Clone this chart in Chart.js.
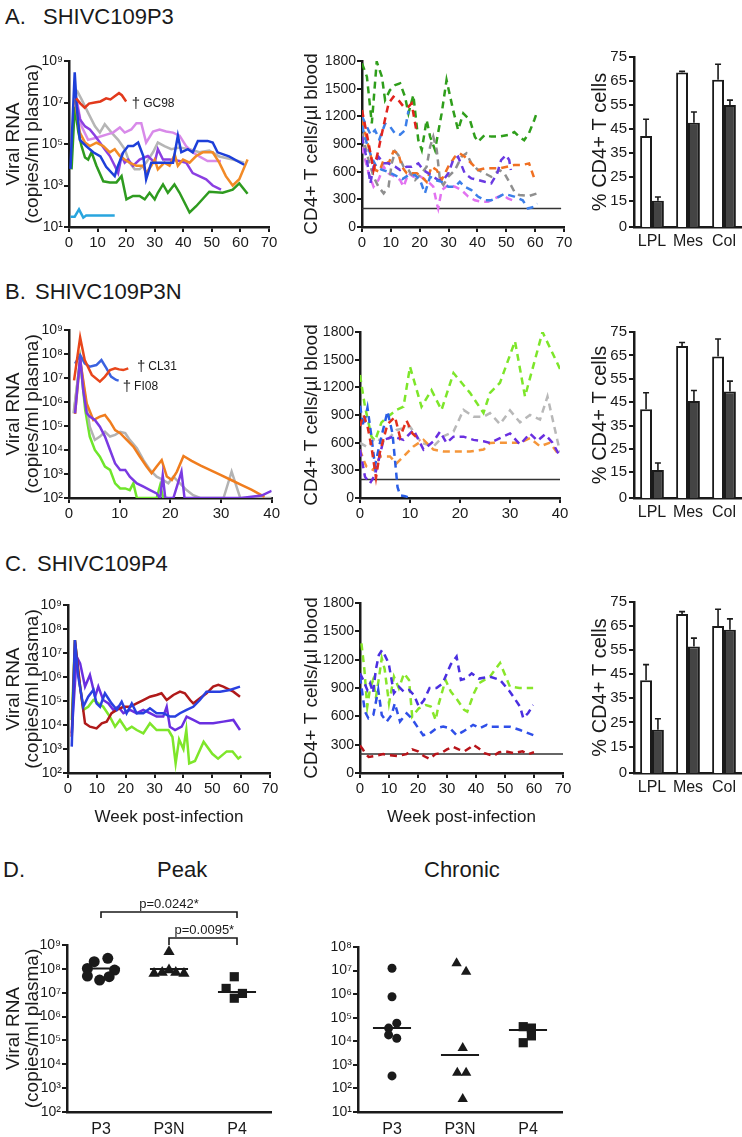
<!DOCTYPE html>
<html>
<head>
<meta charset="utf-8">
<script src="https://cdn.jsdelivr.net/npm/chart.js@4.4.0/dist/chart.umd.min.js"></script>
<style>
  body { margin: 0; background: #fff; width: 742px; height: 1137px; position: relative; overflow: hidden;
         font-family: "Liberation Sans", Arial, sans-serif; color: #1a1a1a; }
  canvas { position: absolute; }
  .hd { position: absolute; font-size: 22px; line-height: 1; white-space: pre; }
</style>
</head>
<body>
<div class="hd" style="left:5px;top:6px">A.</div>
<div class="hd" style="left:43px;top:6px">SHIVC109P3</div>
<div class="hd" style="left:5px;top:281px">B.</div>
<div class="hd" style="left:35px;top:281px">SHIVC109P3N</div>
<div class="hd" style="left:5px;top:553px">C.</div>
<div class="hd" style="left:37px;top:553px">SHIVC109P4</div>
<div class="hd" style="left:3px;top:859px">D.</div>
<div class="hd" style="left:157px;top:859px">Peak</div>
<div class="hd" style="left:424px;top:859px">Chronic</div>

<script>
// ---- A. SHIVC109P3 : viral RNA (log10 copies/ml) by week ----
const rnaA_red_wk = [2.5, 4, 5.5, 7, 9, 11, 13, 14.5, 16, 17.5, 18.5, 20];
const rnaA_red = [7.2, 6.95, 6.75, 6.95, 7.0, 7.05, 7.2, 7.15, 7.3, 7.45, 7.35, 7.05];
const rnaA_cyan_wk = [0.5, 2, 3.5, 5, 6, 16];
const rnaA_cyan = [1.5, 1.5, 1.85, 1.45, 1.55, 1.55];
const rnaA_blue_wk = [0.5, 2, 2.7, 3.8, 6, 8.5, 11, 13, 16, 17, 19, 20.7, 22.5, 24.2, 26, 27, 28.8, 30.5, 34, 36.4, 38.1, 39.3, 41.6, 43.3, 45.1, 48.5, 50.3, 52, 56, 61.3];
const rnaA_blue = [3.8, 8.45, 6.8, 5.2, 4.9, 4.6, 4.4, 3.9, 3.45, 3.9, 4.6, 4.9, 4.9, 5.07, 4.42, 3.3, 4.1, 4.1, 4.1, 4.1, 5.4, 4.6, 4.75, 4.6, 5.15, 5.15, 5.07, 4.6, 4.4, 4.0];
const rnaA_green_wk = [0.9, 2, 3.3, 4.4, 5.6, 6.7, 7.9, 9.6, 12, 14.3, 16.6, 18.4, 20.1, 22.4, 24.7, 26.5, 28.2, 30, 31.1, 32.9, 34.6, 36.9, 38.7, 42.2, 44.5, 49.1, 53.8, 57.3, 59.6, 62.5];
const rnaA_green = [3.78, 6.8, 5.55, 4.9, 4.35, 4.25, 4.6, 3.95, 3.2, 3.15, 3.15, 3.45, 2.33, 2.5, 2.5, 2.33, 2.65, 2.33, 2.65, 3.05, 2.65, 3.05, 2.65, 1.7, 2.0, 2.7, 2.65, 2.8, 3.1, 2.6];
const rnaA_gray_wk = [2.7, 4.4, 6.7, 9.1, 10.8, 12.5, 14.9, 17.2, 19.5, 21.2, 23, 24.7, 27, 29.4, 31.1, 33.4, 35.8, 38.7, 42.2, 45.6, 49.1, 52.6, 57.3, 61.3];
const rnaA_gray = [7.6, 7.15, 6.5, 5.85, 5.55, 5.95, 5.55, 5.2, 4.75, 4.1, 3.78, 3.78, 4.1, 4.6, 5.07, 4.9, 4.75, 4.83, 4.75, 4.6, 4.68, 4.4, 4.25, 4.1];
const rnaA_pink_wk = [2.7, 4.4, 6.7, 9.6, 13.1, 15.4, 17.8, 19.5, 21.8, 23.6, 25.3, 27, 29.4, 31.7, 34, 36.4, 38.7, 41, 43.3, 45.6, 48.5, 50.8, 53.2];
const rnaA_pink = [7.15, 5.85, 5.2, 5.3, 5.45, 5.55, 5.8, 5.55, 5.7, 6.0, 6.0, 5.07, 5.6, 5.7, 5.6, 5.55, 5.4, 4.9, 4.6, 4.4, 4.18, 4.18, 4.18];
const rnaA_purple_wk = [2, 3.8, 5.6, 7.3, 9.1, 10.8, 12.5, 14.3, 16, 17.2, 18.4, 19.5, 20.7, 22.4, 24.7, 27.6, 30, 31.1, 32.9, 35.2, 38.7, 41, 43.3, 45.6, 48, 50.3, 53.2];
const rnaA_purple = [7.45, 6.2, 5.85, 5.7, 5.4, 5.07, 4.75, 4.42, 3.95, 3.6, 4.42, 4.1, 4.25, 3.95, 4.25, 4.42, 4.1, 4.75, 4.25, 4.25, 4.18, 4.1, 3.6, 3.45, 3.3, 3.0, 2.8];
const rnaA_orange_wk = [2, 3.8, 5.6, 7.3, 9.6, 12, 14.3, 16, 17.8, 19.5, 21.2, 23.6, 25.9, 27, 28.8, 30, 31.1, 33.4, 35.2, 37, 38.1, 39.9, 42.2, 44.5, 46.8, 50.3, 52.6, 54.9, 57.3, 59.6, 62.5];
const rnaA_orange = [7.15, 5.55, 5.07, 4.9, 5.07, 4.9, 4.6, 4.75, 4.42, 4.25, 4.1, 3.95, 3.95, 3.6, 3.95, 4.25, 3.78, 4.1, 3.95, 4.5, 3.95, 4.25, 4.1, 4.42, 4.6, 4.6, 4.1, 3.45, 3.0, 3.3, 4.25];

// ---- A. CD4+ T cells/ul by week ----
const cd4A_green_wk = [0, 1.7, 3.4, 5.1, 6.9, 8, 9.7, 11.5, 13.2, 14.9, 16.1, 17.8, 19.5, 20.7, 22.4, 23.6, 25.3, 27.6, 29.3, 31.6, 33.3, 35.1, 37.4, 39.1, 40.2, 42.5, 44.8, 47.6, 51, 52.8, 54.5, 56.2, 57.9, 59.7, 60.7];
const cd4A_green = [1775, 1630, 1124, 1793, 1630, 1377, 1485, 1540, 1558, 1413, 1232, 1431, 943, 835, 1160, 980, 835, 1232, 1594, 1265, 1052, 1232, 1160, 980, 925, 997, 980, 980, 1000, 1030, 980, 940, 1020, 1160, 1250];
const cd4A_red_wk = [0, 2.3, 4, 5.7, 6.9, 9.2, 10.9, 12.6, 14.4, 16.1, 17.2, 19];
const cd4A_red = [1268, 907, 618, 835, 1015, 1340, 1413, 1377, 1305, 1305, 1340, 1015];
const cd4A_ltblue_wk = [0, 1.5, 3, 4.5, 6, 8, 9.7, 11.5, 13.2, 14.9, 16.1];
const cd4A_ltblue = [1200, 1100, 1000, 1050, 950, 1120, 1090, 1010, 1000, 1050, 1260];
const cd4A_blue_wk = [0, 1.7, 3.4, 5.1, 7, 9, 11.5, 14, 16, 18.4, 20.1, 21.8, 23.6, 25.3, 27.6, 29.9, 32.2, 33.9, 35.6, 37.9, 40.2, 42.5, 44.8, 47.6, 49.3, 52.8, 55.7, 57.5, 59.7, 60.7];
const cd4A_blue = [1100, 900, 750, 650, 620, 600, 560, 520, 560, 563, 510, 365, 545, 510, 490, 437, 437, 490, 437, 400, 330, 290, 290, 329, 360, 330, 290, 200, 220, 255];
const cd4A_gray_wk = [0, 2.3, 4, 5.7, 7.5, 9.2, 10.3, 11.5, 12.6, 14.4, 16.1, 18.4, 20.7, 22.4, 23.6, 24.7, 25.9, 27, 28.2, 29.9, 32.2, 34.5, 36.2, 37.9, 40.2, 42.5, 44.8, 47.6, 49.3, 51, 52.8, 54.5, 57.9, 60.7];
const cd4A_gray = [1015, 726, 545, 437, 365, 437, 690, 820, 780, 654, 618, 510, 582, 654, 870, 980, 835, 510, 455, 545, 618, 762, 798, 690, 618, 582, 545, 618, 585, 490, 383, 347, 336, 365];
const cd4A_orange_wk = [0, 1.7, 3.4, 4.6, 6, 7.5, 9.2, 10.9, 12.6, 13.8, 15.5, 17.2, 19, 20.7, 22.4, 24.1, 25.9, 27.6, 29.9, 32.2, 33.9, 35.6, 37.9, 40.2, 42.5, 44.8, 47.6, 52.8, 55.5, 57.9, 59.7];
const cd4A_orange = [1160, 943, 726, 618, 600, 726, 690, 820, 800, 654, 582, 582, 582, 545, 490, 654, 618, 510, 654, 762, 798, 762, 690, 618, 636, 636, 636, 672, 672, 690, 527];
const cd4A_purple_wk = [0, 1.7, 2.9, 4, 5.7, 7.5, 9.2, 11.5, 13.2, 15.5, 17.2, 19.5, 21.2, 23, 24.7, 26.4, 28.2, 29.9, 31.6, 33.3, 35.6, 37.9, 40.2, 42.5, 44.8, 46.9, 48.2, 49.9, 51, 51.6];
const cd4A_purple = [980, 726, 473, 654, 762, 690, 690, 654, 618, 654, 654, 690, 618, 582, 545, 510, 510, 582, 726, 762, 582, 527, 510, 490, 473, 585, 726, 780, 726, 618];
const cd4A_pink_wk = [0, 2.3, 4, 5.7, 7.5, 9.2, 11.5, 13.2, 14.4, 16.1, 17.8, 19.5, 21.2, 23, 24.7, 25.9, 26.4, 27.6, 29.9, 32.2, 34.5, 36.8, 39.1, 41.4, 43.7, 46.4, 48.7, 50.5, 52.2];
const cd4A_pink = [870, 582, 437, 510, 654, 582, 545, 510, 437, 582, 545, 563, 527, 490, 437, 257, 200, 400, 455, 437, 400, 330, 290, 275, 275, 315, 350, 310, 290];

// ---- B. SHIVC109P3N ----
const rnaB_red_wk = [1, 2.2, 3.1, 4.5, 6.1, 7.1, 8.1, 9.1, 9.9, 10.7, 11.7];
const rnaB_red = [6.9, 8.69, 7.75, 7.13, 6.85, 7.06, 7.33, 7.4, 7.36, 7.33, 7.4];
const rnaB_blue_wk = [1.2, 2.2, 3.1, 4.1, 5.4, 6.4, 7.4, 8.3, 9.3, 9.8];
const rnaB_blue = [7.6, 7.96, 7.61, 7.47, 7.54, 7.75, 7.4, 7.06, 6.92, 6.89];
const rnaB_gray_wk = [0.9, 2.2, 3.2, 4.1, 5.1, 6.1, 7.1, 8.1, 9.1, 10.1, 11.1, 12, 13.4, 14.7, 16, 17.3, 18.6, 19.6, 20.6, 21.9, 23.2, 24.5, 25.9, 30.5, 32.1, 33.8, 40];
const rnaB_gray = [5.53, 7.75, 6.2, 4.97, 4.42, 4.56, 4.76, 4.56, 4.63, 4.76, 4.7, 4.42, 4.07, 3.58, 3.17, 2.89, 2.75, 2.61, 2.89, 2.61, 2.33, 2.12, 2.0, 2.0, 3.1, 2.0, 2.0];
const rnaB_orange_wk = [1.2, 2.2, 3.5, 4.8, 6.1, 7.1, 8.1, 9.1, 10.1, 11.4, 12.7, 14, 15.3, 16.3, 17.3, 18.3, 19.3, 20.3, 21.3, 22.6, 24.2, 26, 28, 30, 32, 34, 36, 38.6];
const rnaB_orange = [5.5, 7.75, 5.94, 5.25, 5.39, 5.46, 5.18, 4.83, 4.7, 4.42, 4.14, 3.72, 3.31, 3.03, 3.31, 3.58, 2.9, 2.75, 3.1, 3.75, 3.55, 3.35, 3.15, 2.95, 2.75, 2.55, 2.35, 2.05];
const rnaB_green_wk = [1, 2.2, 3.2, 4.1, 5.1, 6.1, 7.1, 8.1, 9.1, 10.1, 11.1, 12, 12.7, 13.4, 17.3, 18, 18.6, 19.5];
const rnaB_green = [5.6, 7.75, 5.67, 4.56, 4.0, 3.72, 3.31, 3.17, 2.61, 2.4, 2.4, 2.33, 2.61, 2.0, 2.0, 2.54, 2.0, 2.0];
const rnaB_purple_wk = [1.2, 2.2, 2.8, 3.5, 4.1, 5.1, 6.1, 7.1, 8.1, 9.1, 10.1, 11.1, 12, 13.4, 14.7, 16, 17.3, 18, 18.5, 19, 20.6, 22.2, 22.8, 24, 30, 34, 38, 40];
const rnaB_purple = [5.53, 7.89, 6.5, 5.53, 5.39, 5.25, 4.97, 4.56, 4.0, 3.44, 3.17, 3.17, 2.89, 2.61, 2.47, 2.33, 2.19, 2.0, 2.95, 2.0, 2.0, 3.1, 2.0, 2.0, 2.0, 2.0, 2.1, 2.3];

const cd4B_green_wk = [0, 1, 2.3, 3, 4.3, 5.6, 7.3, 8.7, 10, 12.3, 14.3, 16.3, 18.7, 22, 24.7, 26, 28, 31, 33, 35, 36.5, 40];
const cd4B_green = [1334, 990, 665, 620, 820, 882, 955, 990, 1424, 990, 1170, 955, 1355, 1140, 922, 1140, 1250, 1700, 1100, 1500, 1800, 1400];
const cd4B_gray_wk = [0, 1.5, 3, 5, 7.3, 10, 12.3, 14.7, 16.7, 18.7, 20.7, 22.7, 24.7, 26, 28, 30, 32, 34, 36, 37.5, 40];
const cd4B_gray = [597, 550, 650, 600, 738, 773, 597, 560, 670, 720, 955, 882, 882, 920, 800, 950, 820, 900, 850, 1100, 500];
const cd4B_orange_wk = [0, 0.7, 1.3, 2.7, 4, 6, 7.3, 8.7, 10.7, 12.7, 14.7, 16.7, 19.3, 22, 24.7, 26, 29, 32, 34, 36, 38, 40];
const cd4B_orange = [525, 415, 340, 303, 450, 450, 375, 450, 560, 630, 525, 505, 505, 505, 525, 597, 600, 600, 650, 560, 600, 450];
const cd4B_purple_wk = [0, 1, 2, 3, 4.7, 6.7, 8.7, 10.7, 12.7, 14.7, 16, 17.3, 18.7, 20.7, 22.7, 24.7, 26, 28, 30, 32, 34, 35.5, 37, 38.5, 40];
const cd4B_purple = [525, 230, 160, 250, 630, 665, 630, 738, 525, 615, 720, 597, 665, 665, 630, 615, 597, 650, 700, 580, 700, 620, 690, 600, 450];
const cd4B_red_wk = [0, 0.7, 1.5, 2.3, 3.2, 4, 5.5, 7, 8, 9.3, 10.5, 12];
const cd4B_red = [780, 900, 780, 550, 220, 500, 800, 880, 660, 840, 700, 620];
const cd4B_blue_wk = [0, 0.7, 1.5, 2.2, 3, 4, 5.5, 6.5, 7.5, 8, 9, 10];
const cd4B_blue = [1000, 780, 980, 700, 350, 600, 940, 700, 120, 30, 20, 0];

// ---- C. SHIVC109P4 ----
const rnaC_red_wk = [1.3, 2.4, 4.2, 5.9, 7.6, 9.9, 11.7, 13.4, 15.1, 16.9, 19.2, 21.5, 23.8, 26.1, 28.4, 30.7, 32.4, 34.2, 36.5, 38.8, 40.5, 42.3, 43.4, 45.7, 48, 50.3, 52.1, 53.8, 57.3, 59.6];
const rnaC_red = [3.51, 7.54, 5.6, 4.07, 3.93, 3.86, 4.07, 4.14, 4.49, 4.63, 4.76, 4.76, 4.9, 5.04, 5.18, 5.25, 5.32, 5.04, 5.25, 5.39, 5.32, 5.04, 4.9, 5.11, 5.32, 5.6, 5.67, 5.6, 5.39, 5.18];
const rnaC_green_wk = [1.3, 2.4, 3.6, 5.3, 7, 8.8, 10.5, 12.2, 14.5, 16.3, 18, 20.3, 22.1, 23.8, 26.1, 28.4, 30.7, 33, 34.8, 36.2, 37.3, 38.5, 40, 41, 42, 44, 47, 50, 52, 55, 57, 59, 60];
const rnaC_green = [4.21, 7.54, 6.15, 4.63, 4.76, 5.04, 4.9, 4.76, 4.35, 3.93, 4.21, 3.79, 3.93, 3.79, 3.65, 4.07, 3.79, 3.79, 3.79, 3.5, 2.4, 3.4, 3.0, 3.8, 2.4, 2.5, 3.3, 2.8, 2.6, 2.9, 2.9, 2.6, 2.7];
const rnaC_blue_wk = [1.3, 2.4, 3.6, 5.3, 7, 8.8, 9.9, 11.1, 12.8, 15.1, 16.9, 18.6, 20.3, 22.1, 23.8, 26.1, 28.4, 30.7, 33, 35.3, 37.1, 38.8, 41.1, 43.4, 45.7, 48, 50.3, 52.7, 56.1, 59.6];
const rnaC_blue = [3.1, 7.54, 6.0, 4.76, 5.18, 5.46, 4.9, 4.76, 5.32, 4.9, 4.63, 4.97, 4.49, 4.9, 4.49, 4.49, 4.7, 4.49, 4.49, 4.35, 4.35, 4.49, 4.63, 4.76, 5.04, 5.39, 5.39, 5.39, 5.46, 5.6];
const rnaC_purple_wk = [1.3, 3, 4.2, 5.9, 7.6, 9.4, 10.5, 12.2, 14, 15.7, 17.4, 19.2, 21.5, 23.8, 26.1, 28.4, 30.7, 33, 34.2, 35.3, 37.1, 39.4, 41.1, 43.4, 45.7, 50.3, 53.8, 57.3, 59.6];
const rnaC_purple = [3.65, 6.85, 6.57, 5.6, 6.08, 5.18, 5.6, 5.04, 4.9, 4.63, 4.76, 4.49, 4.63, 4.49, 4.63, 4.49, 4.35, 4.35, 4.76, 3.93, 3.79, 3.93, 4.35, 4.21, 4.07, 4.07, 4.14, 4.21, 3.79];

const cd4C_green_wk = [0.5, 1.5, 2.5, 3.5, 4.5, 5.5, 6.5, 7.5, 8.5, 10, 11.7, 13.4, 15.2, 16.9, 18, 20.3, 22.7, 24.4, 26.1, 27.2, 29.5, 31.3, 33.6, 35.9, 37, 39.3, 41, 44.8, 48.3, 51.7, 55, 59.7];
const cd4C_green = [1373, 1100, 703, 900, 985, 800, 1000, 1215, 1100, 738, 1020, 897, 1055, 985, 597, 685, 720, 703, 560, 738, 985, 862, 773, 668, 650, 844, 950, 1020, 1165, 914, 900, 900];
const cd4C_violet_wk = [0, 1.1, 2.5, 3.5, 4.5, 5.5, 6.5, 7.6, 8.5, 9.9, 11.7, 13.4, 15.1, 16.9, 18.6, 20.3, 22.1, 24, 26.4, 28.5, 31.3, 33.3, 34.8, 36.5, 38.5, 41, 44.8, 48.3, 51.7, 55.2, 56.3, 58, 59.7];
const cd4C_violet = [1055, 985, 880, 950, 850, 1100, 1250, 1300, 1250, 1160, 844, 914, 862, 879, 826, 703, 773, 900, 900, 950, 1150, 1232, 985, 1000, 1055, 1000, 1020, 985, 861, 702, 580, 635, 720];
const cd4C_blue_wk = [0, 1.7, 2.9, 4.6, 6.3, 7.5, 9.2, 10.9, 12, 13.8, 16.1, 17.8, 20.1, 21.8, 24.1, 26.4, 28.7, 31, 33.3, 35.6, 39, 41.4, 43.7, 44.8, 51.7, 55.2, 59.8];
const cd4C_blue = [1020, 650, 580, 615, 879, 615, 545, 615, 738, 545, 632, 580, 475, 400, 420, 475, 492, 475, 400, 440, 510, 475, 510, 490, 490, 455, 400];
const cd4C_red_wk = [0, 1, 2, 3, 5, 8, 10, 13, 16, 18, 20, 22, 24, 26, 28, 30, 32, 34, 36, 38, 39, 41, 43, 46, 48, 50, 53, 56, 58, 60];
const cd4C_red = [290, 250, 200, 170, 180, 200, 190, 180, 200, 250, 230, 180, 150, 200, 210, 250, 280, 250, 230, 270, 300, 260, 210, 180, 220, 230, 210, 230, 200, 220];

const cd4Threshold = 200;

// ---- % CD4+ T cells in tissues (white = uninfected, dark = infected) ----
const tissues = ['LPL', 'Mes', 'Col'];
const pctTicks = [15, 25, 35, 45, 55, 65, 75];
const pctA_ctrl = [42, 68.5, 65.5], pctA_ctrlSem = [7, 0.5, 6.5];
const pctA_inf = [15, 47.5, 55], pctA_infSem = [1.5, 4.5, 2];
const pctB_ctrl = [42, 69, 64.5], pctB_ctrlSem = [7, 1.5, 7.5];
const pctB_inf = [16, 45.5, 49.5], pctB_infSem = [3, 4.5, 4.5];
const pctC_ctrl = [42.5, 70, 65], pctC_ctrlSem = [6.5, 1, 7];
const pctC_inf = [22, 56.5, 63.5], pctC_infSem = [4.5, 3.5, 4.5];

// ---- D. peak / chronic viral load (log10 copies/ml) ----
const groups = ['P3', 'P3N', 'P4'];
const peakP3 = [8.30, 8.44, 8.02, 7.95, 7.70, 7.53, 7.67];
const peakP3_jit = [-0.1, 0.1, -0.2, 0.2, -0.2, -0.02, 0.12];
const peakP3N = [8.72, 7.81, 7.85, 7.95, 7.85, 7.81];
const peakP3N_jit = [0, -0.22, -0.1, 0, 0.1, 0.22];
const peakP4 = [7.67, 7.18, 6.97, 6.77];
const peakP4_jit = [-0.04, -0.16, 0.08, -0.04];
const peakMedians = [8.02, 7.99, 7.03];
const chronicP3 = [7.10, 5.89, 4.77, 4.56, 4.27, 4.13, 2.53];
const chronicP3_jit = [0, 0, 0.07, -0.05, -0.05, 0.07, 0];
const chronicP3N = [7.31, 6.95, 3.71, 2.67, 2.67, 1.55];
const chronicP3N_jit = [-0.05, 0.09, 0.04, -0.04, 0.09, 0.04];
const chronicP4 = [4.62, 4.56, 4.23, 3.94];
const chronicP4_jit = [-0.07, 0.05, 0.05, -0.07];
const chronicMedians = [4.56, 3.42, 4.48];

// ---------------------------------------------------------------
const INK = '#1a1a1a';
const FONT = '"Liberation Sans", Arial, sans-serif';
Chart.defaults.font.family = FONT;
Chart.defaults.color = INK;
Chart.defaults.animation = false;
Chart.defaults.events = [];
Chart.defaults.plugins.legend.display = false;
Chart.defaults.plugins.tooltip.enabled = false;

const SUP = ['⁰', '¹', '²', '³', '⁴', '⁵', '⁶', '⁷', '⁸', '⁹'];
const pow10 = v => '10' + SUP[v];
const range = (a, b) => { const r = []; for (let i = a; i <= b; i++) r.push(i); return r; };

function place(left, top, w, h) {
  const c = document.createElement('canvas');
  c.width = w; c.height = h;
  c.style.left = left + 'px'; c.style.top = top + 'px';
  c.style.width = w + 'px'; c.style.height = h + 'px';
  document.body.appendChild(c);
  return c;
}

function line(wk, val, color, dashed, width) {
  return {
    data: wk.map((x, i) => ({ x, y: val[i] })),
    borderColor: color, borderWidth: width || 2.5,
    borderDash: dashed ? [7, 5] : [],
    pointRadius: 0, tension: 0, fill: false
  };
}

const gridOn = { drawOnChartArea: false, drawTicks: true, tickLength: 5, color: INK, lineWidth: 2 };
const gridOff = { drawOnChartArea: false, drawTicks: false };
const border = { color: INK, width: 2.5 };

// dagger notes for animals that died
function notes(list) {
  return {
    id: 'notes',
    afterDatasetsDraw(chart) {
      const ctx = chart.ctx, xs = chart.scales.x, ys = chart.scales.y;
      ctx.save();
      ctx.fillStyle = INK; ctx.textBaseline = 'middle';
      list.forEach(n => {
        const px = xs.getPixelForValue(n.x), py = ys.getPixelForValue(n.y);
        ctx.font = '15px ' + FONT;
        ctx.fillText('†', px, py);
        const w = ctx.measureText('†').width;
        ctx.font = '12px ' + FONT;
        ctx.fillText(n.text, px + w + 3, py);
      });
      ctx.restore();
    }
  };
}

function timeChart(box, p) {
  const cv = place(box[0], box[1], box[2], box[3]);
  return new Chart(cv, {
    type: 'line',
    data: { datasets: p.sets },
    options: {
      responsive: false,
      layout: { padding: { top: p.pt, right: p.pr, left: 0, bottom: 0 } },
      scales: {
        x: {
          type: 'linear', min: 0, max: p.xmax,
          afterBuildTicks: s => { s.ticks = p.xticks.map(v => ({ value: v })); },
          ticks: { font: { size: 15 }, padding: 2, maxRotation: 0, autoSkip: false },
          grid: gridOn, border,
          title: p.xtitle
            ? { display: true, text: p.xtitle, font: { size: 17 }, padding: { top: 0, bottom: 12 } }
            : { display: false },
          afterFit: s => { s.height = p.xh; }
        },
        y: {
          type: 'linear', min: p.ymin, max: p.ymax,
          afterBuildTicks: s => { s.ticks = p.yticks.map(v => ({ value: v })); },
          ticks: { font: { size: p.yfs || 14 }, padding: 1, callback: p.ylab, autoSkip: false },
          grid: gridOn, border,
          title: { display: true, text: p.ytitle, font: { size: p.ytfs || 19, lineHeight: p.ytlh || 1.0 },
                   padding: { top: p.ytp, bottom: 0 } },
          afterFit: s => { s.width = p.yw; }
        }
      }
    },
    plugins: p.notes ? [notes(p.notes)] : []
  });
}

const errorBars = {
  id: 'errorBars',
  afterDatasetsDraw(chart) {
    const ctx = chart.ctx, ys = chart.scales.y;
    ctx.save();
    ctx.strokeStyle = INK; ctx.lineWidth = 1.6;
    chart.data.datasets.forEach((ds, di) => {
      chart.getDatasetMeta(di).data.forEach((bar, i) => {
        const top = ys.getPixelForValue(ds.data[i] + ds.sem[i]);
        ctx.beginPath();
        ctx.moveTo(bar.x, bar.y); ctx.lineTo(bar.x, top);
        ctx.moveTo(bar.x - 3, top); ctx.lineTo(bar.x + 3, top);
        ctx.stroke();
      });
    });
    ctx.restore();
  }
};

function barChart(box, p) {
  const cv = place(box[0], box[1], box[2], box[3]);
  const base = 4; // compressed bottom segment, labelled 0
  return new Chart(cv, {
    type: 'bar',
    data: {
      labels: tissues,
      datasets: [
        { data: p.ctrl, sem: p.ctrlSem, backgroundColor: '#ffffff', borderColor: INK, borderWidth: 2, borderSkipped: 'bottom' },
        { data: p.inf, sem: p.infSem, backgroundColor: '#444444', borderColor: INK, borderWidth: 2, borderSkipped: 'bottom' }
      ]
    },
    options: {
      responsive: false,
      layout: { padding: { top: p.pt, right: 0, left: 0, bottom: 0 } },
      datasets: { bar: { categoryPercentage: 0.66, barPercentage: 1 } },
      scales: {
        x: {
          grid: gridOff, border,
          ticks: { font: { size: 16 }, padding: 5, maxRotation: 0, minRotation: 0, autoSkip: false },
          afterFit: s => { s.height = p.xh; }
        },
        y: {
          min: base, max: 75,
          afterBuildTicks: s => { s.ticks = [base].concat(pctTicks).map(v => ({ value: v })); },
          ticks: { font: { size: 15 }, padding: 2, autoSkip: false, callback: v => (v === base ? '0' : v) },
          grid: gridOn, border,
          title: { display: true, text: '% CD4+ T cells', font: { size: 20, lineHeight: 1.2 }, padding: { top: 3, bottom: 0 } },
          afterFit: s => { s.width = 49; }
        }
      }
    },
    plugins: [errorBars]
  });
}

function brackets(list) {
  return {
    id: 'brackets',
    afterDatasetsDraw(chart) {
      const ctx = chart.ctx, xs = chart.scales.x, top = chart.chartArea.top;
      ctx.save();
      ctx.strokeStyle = INK; ctx.fillStyle = INK; ctx.lineWidth = 1.6;
      ctx.font = '13px ' + FONT; ctx.textAlign = 'center'; ctx.textBaseline = 'alphabetic';
      list.forEach(b => {
        const x1 = xs.getPixelForValue(b.from), x2 = xs.getPixelForValue(b.to);
        const y = top - b.rise;
        ctx.beginPath();
        ctx.moveTo(x1, y + b.drop); ctx.lineTo(x1, y); ctx.lineTo(x2, y); ctx.lineTo(x2, y + b.drop);
        ctx.stroke();
        ctx.fillText(b.text, xs.getPixelForValue(b.labelAt), y - 4);
      });
      ctx.restore();
    }
  };
}

function dotChart(box, p) {
  const cv = place(box[0], box[1], box[2], box[3]);
  const shapes = ['circle', 'triangle', 'rect'];
  const sets = [];
  p.vals.forEach((vals, k) => {
    sets.push({
      data: vals.map((v, i) => ({ x: k + 1 + p.jit[k][i], y: v })),
      pointStyle: shapes[k], pointRadius: p.radii[k], pointBackgroundColor: INK,
      pointBorderColor: INK, pointBorderWidth: 0, showLine: false
    });
    sets.push({
      data: [{ x: k + 0.72, y: p.medians[k] }, { x: k + 1.28, y: p.medians[k] }],
      borderColor: INK, borderWidth: 2, pointRadius: 0, showLine: true
    });
  });
  return new Chart(cv, {
    type: 'scatter',
    data: { datasets: sets },
    options: {
      responsive: false,
      layout: { padding: { top: p.pt, right: p.pr, left: 0, bottom: 0 } },
      scales: {
        x: {
          type: 'linear', min: 0.5, max: 3.5,
          afterBuildTicks: s => { s.ticks = [1, 2, 3].map(v => ({ value: v })); },
          ticks: { font: { size: 16 }, padding: 8, callback: v => groups[v - 1] },
          grid: gridOff, border,
          afterFit: s => { s.height = p.xh; }
        },
        y: {
          type: 'linear', min: p.ymin, max: p.ymax,
          afterBuildTicks: s => { s.ticks = range(p.ymin, p.ymax).map(v => ({ value: v })); },
          ticks: { font: { size: 14 }, padding: 1, callback: v => pow10(v), autoSkip: false },
          grid: gridOn, border,
          title: p.ytitle
            ? { display: true, text: p.ytitle, font: { size: 19, lineHeight: 1.0 }, padding: { top: 4, bottom: 0 } }
            : { display: false },
          afterFit: s => { s.width = p.yw; }
        }
      }
    },
    plugins: p.brackets ? [brackets(p.brackets)] : []
  });
}

const rnaTitle = ['Viral RNA', '(copies/ml plasma)'];
const cd4Title = 'CD4+ T cells/µl blood';
const wk70 = [0, 10, 20, 30, 40, 50, 60, 70];
const wk40 = [0, 10, 20, 30, 40];

// ---- row A ----
timeChart([0, 45, 282, 215], {
  sets: [
    line(rnaA_red_wk, rnaA_red, '#e2391c'),
    line(rnaA_blue_wk, rnaA_blue, '#1d3fd9'),
    line(rnaA_orange_wk, rnaA_orange, '#f28a26'),
    line(rnaA_purple_wk, rnaA_purple, '#8b3fe2'),
    line(rnaA_pink_wk, rnaA_pink, '#d88ae9'),
    line(rnaA_gray_wk, rnaA_gray, '#b5b5b5'),
    line(rnaA_green_wk, rnaA_green, '#2e9b1f'),
    line(rnaA_cyan_wk, rnaA_cyan, '#29a5de')
  ],
  xmax: 70, xticks: wk70, ymin: 1, ymax: 9, yticks: [1, 3, 5, 7, 9], ylab: v => pow10(v),
  ytitle: rnaTitle, ytp: 4, yw: 69, pt: 16, pr: 13, xh: 33,
  notes: [{ x: 22, y: 6.93, text: 'GC98' }]
});
timeChart([290, 45, 285, 215], {
  sets: [
    line(cd4A_red_wk, cd4A_red, '#e2241e', true),
    line(cd4A_ltblue_wk, cd4A_ltblue, '#3c7fe9', true),
    line(cd4A_blue_wk, cd4A_blue, '#3c7fe9', true),
    line(cd4A_purple_wk, cd4A_purple, '#6a3ae2', true),
    line(cd4A_orange_wk, cd4A_orange, '#f07022', true),
    line(cd4A_gray_wk, cd4A_gray, '#8f8f8f', true),
    line(cd4A_pink_wk, cd4A_pink, '#e272f0', true),
    line(cd4A_green_wk, cd4A_green, '#2f9e1b', true),
    line([0, 69], [cd4Threshold, cd4Threshold], '#333', false, 1.5)
  ],
  xmax: 70, xticks: wk70, ymin: 0, ymax: 1800, yticks: [0, 300, 600, 900, 1200, 1500, 1800], yfs: 14,
  ylab: v => v, ytitle: cd4Title, ytfs: 19, ytlh: 1.2, ytp: 10, yw: 72, pt: 16, pr: 11, xh: 33
});
barChart([585, 45, 157, 215], { ctrl: pctA_ctrl, ctrlSem: pctA_ctrlSem, inf: pctA_inf, infSem: pctA_infSem, pt: 12, xh: 33 });

// ---- row B ----
timeChart([0, 315, 282, 215], {
  sets: [
    line(rnaB_red_wk, rnaB_red, '#e8461b'),
    line(rnaB_blue_wk, rnaB_blue, '#3a62e0'),
    line(rnaB_purple_wk, rnaB_purple, '#7a3ae2'),
    line(rnaB_orange_wk, rnaB_orange, '#f07d1e'),
    line(rnaB_gray_wk, rnaB_gray, '#b3b3b3'),
    line(rnaB_green_wk, rnaB_green, '#6fe62b')
  ],
  xmax: 40, xticks: wk40, ymin: 2, ymax: 9, yticks: range(2, 9), ylab: v => pow10(v),
  ytitle: rnaTitle, ytp: 4, yw: 69, pt: 15, pr: 10, xh: 32,
  notes: [{ x: 13.4, y: 7.47, text: 'CL31' }, { x: 10.6, y: 6.64, text: 'FI08' }]
});
timeChart([290, 315, 285, 215], {
  sets: [
    line(cd4B_red_wk, cd4B_red, '#e2301e', true),
    line(cd4B_blue_wk, cd4B_blue, '#2a5ee6', true),
    line(cd4B_purple_wk, cd4B_purple, '#6a2fe0', true),
    line(cd4B_orange_wk, cd4B_orange, '#f5963a', true),
    line(cd4B_gray_wk, cd4B_gray, '#b8b8b8', true),
    line(cd4B_green_wk, cd4B_green, '#7de62a', true),
    line([0, 40], [cd4Threshold, cd4Threshold], '#333', false, 1.5)
  ],
  xmax: 40, xticks: wk40, ymin: 0, ymax: 1800, yticks: [0, 300, 600, 900, 1200, 1500, 1800], yfs: 14,
  ylab: v => v, ytitle: cd4Title, ytfs: 19, ytlh: 1.2, ytp: 10, yw: 70, pt: 17, pr: 15, xh: 32
});
barChart([585, 315, 157, 215], { ctrl: pctB_ctrl, ctrlSem: pctB_ctrlSem, inf: pctB_inf, infSem: pctB_infSem, pt: 17, xh: 32 });

// ---- row C ----
timeChart([0, 590, 282, 250], {
  sets: [
    line(rnaC_blue_wk, rnaC_blue, '#2a40e0'),
    line(rnaC_red_wk, rnaC_red, '#b01a1a'),
    line(rnaC_purple_wk, rnaC_purple, '#6a2fe0'),
    line(rnaC_green_wk, rnaC_green, '#7ee62a')
  ],
  xmax: 70, xticks: wk70, ymin: 2, ymax: 9, yticks: range(2, 9), ylab: v => pow10(v),
  ytitle: rnaTitle, ytp: 4, yw: 68, pt: 15, pr: 12, xh: 67, xtitle: 'Week post-infection'
});
timeChart([290, 590, 285, 250], {
  sets: [
    line(cd4C_violet_wk, cd4C_violet, '#4a2fe0', true),
    line(cd4C_blue_wk, cd4C_blue, '#2f4fe8', true),
    line(cd4C_green_wk, cd4C_green, '#88e62a', true),
    line(cd4C_red_wk, cd4C_red, '#b8141a', true),
    line([0, 70], [cd4Threshold, cd4Threshold], '#333', false, 1.5)
  ],
  xmax: 70, xticks: wk70, ymin: 0, ymax: 1800, yticks: [0, 300, 600, 900, 1200, 1500, 1800], yfs: 14,
  ylab: v => v, ytitle: cd4Title, ytfs: 19, ytlh: 1.2, ytp: 10, yw: 70, pt: 13, pr: 12, xh: 67,
  xtitle: 'Week post-infection'
});
barChart([585, 590, 157, 215], { ctrl: pctC_ctrl, ctrlSem: pctC_ctrlSem, inf: pctC_inf, infSem: pctC_infSem, pt: 12, xh: 32 });

// ---- row D ----
dotChart([0, 890, 282, 247], {
  vals: [peakP3, peakP3N, peakP4], jit: [peakP3_jit, peakP3N_jit, peakP4_jit], medians: peakMedians,
  radii: [5.5, 6.5, 6.5], ymin: 2, ymax: 9, ytitle: rnaTitle, yw: 67, pt: 55, pr: 11, xh: 25,
  brackets: [
    { from: 1, to: 3, rise: 33, drop: 6, labelAt: 2, text: 'p=0.0242*' },
    { from: 2, to: 3, rise: 7, drop: 7, labelAt: 2.52, text: 'p=0.0095*' }
  ]
});
dotChart([290, 890, 282, 247], {
  vals: [chronicP3, chronicP3N, chronicP4], jit: [chronicP3_jit, chronicP3N_jit, chronicP4_jit], medians: chronicMedians,
  radii: [4.5, 6, 6.5], ymin: 1, ymax: 8, yw: 68, pt: 57, pr: 10, xh: 25
});
</script>
</body>
</html>
